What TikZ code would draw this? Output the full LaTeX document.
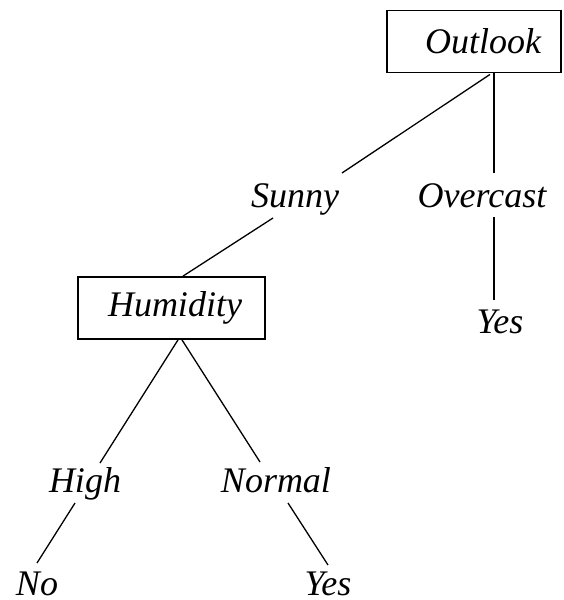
\documentclass[tikz,border=0pt]{standalone}
\usepackage{fontspec}
\setmainfont{Liberation Serif}
\usetikzlibrary{calc}
\begin{document}
\begin{tikzpicture}[x=1pt,y=1pt,
  every node/.style={font=\fontsize{36}{40}\selectfont\itshape, inner sep=0pt},
  testbox/.style={draw, line width=1.8pt, minimum height=62pt},
  leaf/.style={anchor=base},
  edge/.style={line width=1.3pt}]
  \useasboundingbox (0,0) rectangle (563,-600);

  % decision nodes
  \node[testbox, minimum width=174pt] (outlook) at (474,-41.5) {\hspace{18pt}Outlook};
  \node[testbox, minimum width=187pt] (humidity) at (171.5,-308) {\hspace{7pt}Humidity};

  % branch labels and leaves
  \node[leaf] (sunny)    at (295,-207) {Sunny};
  \node[leaf] (overcast) at (482,-207) {Overcast};
  \node[leaf] (yesA)     at (500,-333) {Yes};
  \node[leaf] (high)     at (85,-492)  {High};
  \node[leaf] (normal)   at (276,-492) {Normal};
  \node[leaf] (no)       at (37,-595)  {No};
  \node[leaf] (yesB)     at (328,-595) {Yes};

  % branches
  \draw[edge] ($(outlook.south)+(16,-1)$) -- ($(sunny.base)+(47,34)$);
  \draw[edge] ($(sunny.base)+(-22,-11)$) -- ($(humidity.north)+(11.5,0)$);
  \draw[edge] ($(outlook.south)+(20,0)$) -- ($(overcast.base)+(12,34)$);
  \draw[edge] ($(overcast.base)+(12,-10)$) -- ($(yesA.base)+(-6,33)$);
  \draw[edge] ($(humidity.south)+(6.5,0)$) -- ($(high.base)+(15,29)$);
  \draw[edge] ($(humidity.south)+(10.5,0)$) -- ($(normal.base)+(-16,30)$);
  \draw[edge] ($(high.base)+(-10,-11)$) -- ($(no.base)+(0,32)$);
  \draw[edge] ($(normal.base)+(12,-11)$) -- ($(yesB.base)+(0,30)$);
\end{tikzpicture}
\end{document}
